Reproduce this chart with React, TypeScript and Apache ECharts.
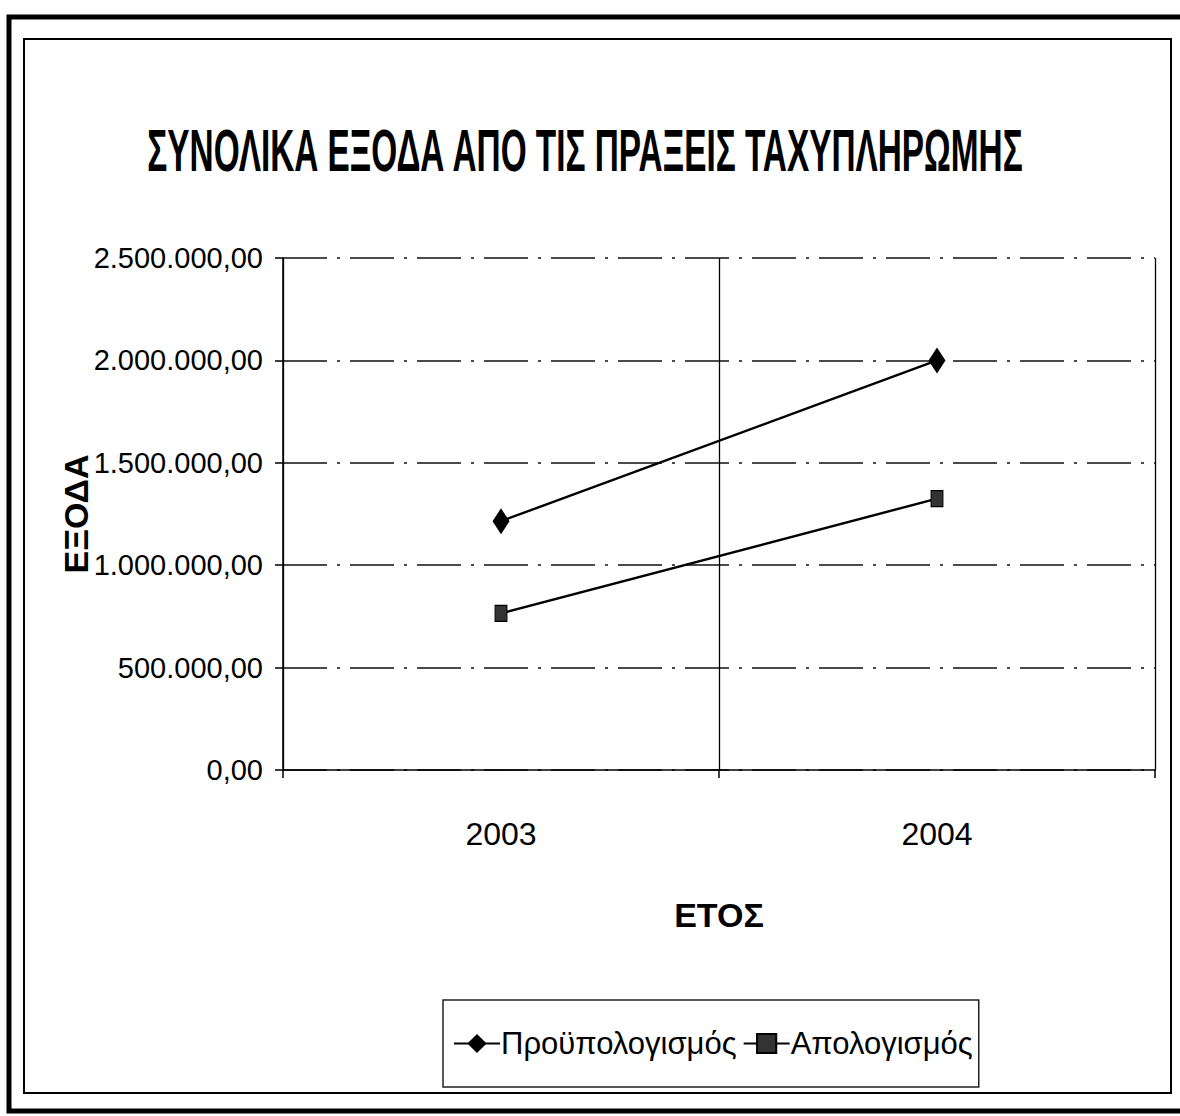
import React, { useEffect, useRef } from "react";
import * as echarts from "echarts";

const TITLE = "ΣΥΝΟΛΙΚΑ ΕΞΟΔΑ ΑΠΟ ΤΙΣ ΠΡΑΞΕΙΣ ΤΑΧΥΠΛΗΡΩΜΗΣ";
const years = ["2003", "2004"];
const budget = [1215000, 2000000];
const actual = [765000, 1325000];
const seriesNames = ["Προϋπολογισμός", "Απολογισμός"];
const yTicks = [0, 500000, 1000000, 1500000, 2000000, 2500000];

const FONT = "'Liberation Sans', Arial, sans-serif";

function fmt(v: number): string {
  const int = Math.round(v).toString().replace(/\B(?=(\d{3})+(?!\d))/g, ".");
  return int + ",00";
}

export default function App() {
  const ref = useRef<HTMLDivElement>(null);
  useEffect(() => {
    if (!ref.current) return;
    const chart = echarts.init(ref.current, null, { renderer: "svg" });
    chart.setOption({
      animation: false,
      backgroundColor: "#ffffff",
      graphic: [
        { type: "rect", shape: { x: 9, y: 17, width: 1180, height: 1094 }, style: { fill: "none", stroke: "#000", lineWidth: 5 }, silent: true },
        { type: "rect", shape: { x: 24, y: 39, width: 1147, height: 1054 }, style: { fill: "none", stroke: "#000", lineWidth: 2 }, silent: true },
        {
          type: "text",
          x: 585,
          y: 150,
          scaleX: 0.556,
          style: {
            text: TITLE,
            fontFamily: FONT,
            fontWeight: "bold",
            fontSize: 60,
            fill: "#000",
            align: "center",
            verticalAlign: "middle",
          },
        },
      ],
      legend: {
        left: 443,
        top: 1000,
        width: 900,
        padding: [28, 6, 28, 10],
        itemGap: 6,
        itemWidth: 46,
        itemHeight: 24,
        borderColor: "#222",
        borderWidth: 1.5,
        textStyle: { fontFamily: FONT, fontSize: 31, color: "#000", padding: [0, 0, 0, -4] },
        data: seriesNames,
      },
      grid: { left: 283, right: 25, top: 258, bottom: 346, outerBoundsMode: "none", containLabel: false },
      xAxis: {
        type: "category",
        data: years,
        boundaryGap: true,
        name: "ΕΤΟΣ",
        nameLocation: "middle",
        nameGap: 128,
        nameMoveOverlap: false,
        nameTextStyle: { fontFamily: FONT, fontWeight: "bold", fontSize: 34, color: "#000" },
        axisLine: { lineStyle: { color: "#000", width: 1.5 } },
        axisTick: { show: true, length: 8, lineStyle: { color: "#000", width: 1.5 } },
        axisLabel: { fontFamily: FONT, fontSize: 32, color: "#000", margin: 48 },
        splitLine: { show: true, lineStyle: { color: "#000", width: 1.3, type: "solid" } },
      },
      yAxis: {
        type: "value",
        min: 0,
        max: 2500000,
        interval: 500000,
        name: "ΕΞΟΔΑ",
        nameLocation: "middle",
        nameGap: 190,
        nameRotate: 90,
        nameMoveOverlap: false,
        nameTextStyle: { fontFamily: FONT, fontWeight: "bold", fontSize: 34, color: "#000" },
        axisLine: { show: true, lineStyle: { color: "#000", width: 1.5 } },
        axisTick: { show: true, length: 8, lineStyle: { color: "#000", width: 1.5 } },
        axisLabel: {
          fontFamily: FONT,
          fontSize: 29,
          color: "#000",
          margin: 20,
          formatter: (v: number) => (yTicks.includes(v) ? fmt(v) : ""),
        },
        splitLine: { show: true, lineStyle: { color: "#111", width: 1.5, type: [44, 10, 3, 10] } },
      },
      series: [
        {
          name: seriesNames[0],
          type: "line",
          data: budget,
          symbol: "diamond",
          symbolSize: [17, 26],
          itemStyle: { color: "#000" },
          lineStyle: { color: "#000", width: 2.4 },
        },
        {
          name: seriesNames[1],
          type: "line",
          data: actual,
          symbol: "rect",
          symbolSize: [12, 16],
          itemStyle: { color: "#333", borderColor: "#000", borderWidth: 1 },
          lineStyle: { color: "#000", width: 2.4 },
        },
      ],
    });
    return () => chart.dispose();
  }, []);
  return <div ref={ref} style={{ position: "fixed", left: 0, top: 0, width: 1180, height: 1116 }} />;
}
